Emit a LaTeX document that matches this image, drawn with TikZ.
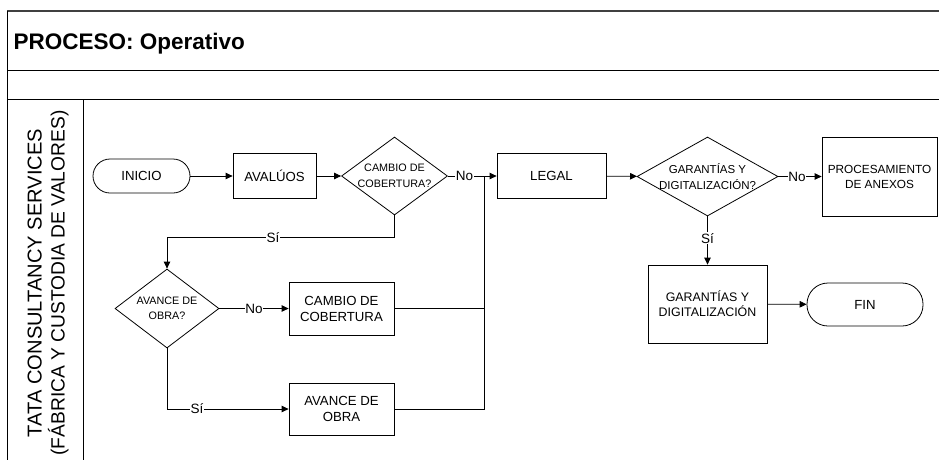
\documentclass[tikz,border=0pt]{standalone}
\usepackage{fontspec}
\setmainfont{Liberation Sans}
\usetikzlibrary{shapes.geometric,arrows.meta}

\tikzset{
  flow/.style={line width=0.8pt, draw=black},
  arr/.style={flow, -{Triangle[length=7pt,width=6.5pt]}},
  procbox/.style={draw=black, line width=0.8pt, rectangle, align=center, inner sep=0pt,
    font=\fontsize{13.2}{16}\selectfont},
  smallbox/.style={procbox, font=\fontsize{12.4}{15}\selectfont},
  terminal/.style={draw=black, line width=0.8pt, rectangle, rounded corners=17pt,
    align=center, inner sep=0pt, font=\fontsize{13.2}{16}\selectfont},
  decision/.style={draw=black, line width=0.8pt, diamond, align=center, inner sep=-14pt,
    font=\fontsize{10.8}{15.5}\selectfont},
  lbl/.style={fill=white, inner sep=0.6pt, font=\fontsize{13.5}{16}\selectfont},
  frameline/.style={line width=0.8pt, draw=black},
}

\begin{document}
\begin{tikzpicture}[x=1pt,y=-1pt]
\path[use as bounding box] (0,0) rectangle (939,459);
\clip (0,0) rectangle (939,459);

% pool frame and lane
\draw[line width=1.6pt, draw=black!75] (7,11) -- (950,11);
\draw[frameline] (7,11) -- (7,470);
\draw[frameline] (7,70) -- (950,70);
\draw[frameline] (7,99) -- (950,99);
\draw[frameline] (83,99) -- (83,470);

\node[anchor=base west, font=\bfseries\fontsize{22.5}{26}\selectfont] (title) at (10,49.5) {PROCESO: Operativo};
\node[rotate=90, align=center, inner sep=0pt, font=\fontsize{19.6}{23}\selectfont] (lane) at (48,283)
  {\fontsize{20.1}{23}\selectfont TATA CONSULTANCY SERVICES\\
   \fontsize{19.2}{23}\selectfont (FÁBRICA Y CUSTODIA DE VALORES)};

% main row
\node[terminal, minimum width=97pt, minimum height=34pt] (inicio) at (141.5,176) {INICIO};
\node[procbox, minimum width=83pt, minimum height=45pt] (avaluos) at (274.5,176) {AVALÚOS};
\node[decision, minimum width=106pt, minimum height=78pt] (cambioq) at (394.5,176) {CAMBIO DE\\COBERTURA?};
\node[procbox, minimum width=109pt, minimum height=45pt] (legal) at (551.5,176) {LEGAL};
\node[decision, minimum width=141pt, minimum height=79pt, font=\fontsize{11.5}{16}\selectfont] (garq) at (707.5,176.5) {GARANTÍAS Y\\DIGITALIZACIÓN?};
\node[smallbox, minimum width=115pt, minimum height=79pt, font=\fontsize{11.8}{15}\selectfont] (anexos) at (879.5,176.5) {PROCESAMIENTO\\DE ANEXOS};

% lower right
\node[smallbox, minimum width=119pt, minimum height=78pt] (garbox) at (707.5,304) {GARANTÍAS Y\\DIGITALIZACIÓN};
\node[terminal, minimum width=116pt, minimum height=43pt, rounded corners=21pt] (fin) at (865,304.5) {FIN};

% lower left
\node[decision, minimum width=104pt, minimum height=79pt] (avanceq) at (167,308.5) {AVANCE DE\\OBRA?};
\node[procbox, minimum width=105pt, minimum height=53pt] (cambiobox) at (341.5,308.5) {CAMBIO DE\\COBERTURA};
\node[procbox, minimum width=105pt, minimum height=52pt] (avancebox) at (341.5,409) {AVANCE DE\\OBRA};

\coordinate (join) at (484,176);

% connectors
\draw[arr] (inicio) -- (avaluos);
\draw[arr] (avaluos) -- (cambioq);
\draw[arr] (cambioq.east) -- node[lbl, pos=0.34] {No} (legal.west);
\draw[arr] (legal) -- (garq);
\draw[arr] (garq.east) -- node[lbl, pos=0.43] {No} (anexos.west);
\draw[arr] (garq.south) -- node[lbl, pos=0.45] {Sí} (garbox.north);
\draw[arr] (garbox) -- (fin);

\draw[arr] (cambioq.south) -- ++(0,22) -| node[lbl, pos=0.267] {Sí} (avanceq.north);
\draw[arr] (avanceq.east) -- node[lbl] {No} (cambiobox.west);
\draw[arr] (avanceq.south) |- node[lbl, pos=0.623] {Sí} (avancebox.west);

\draw[flow] (cambiobox.east) -- (cambiobox.east -| join);
\draw[flow] (avancebox.east) -| (join);
\end{tikzpicture}
\end{document}
